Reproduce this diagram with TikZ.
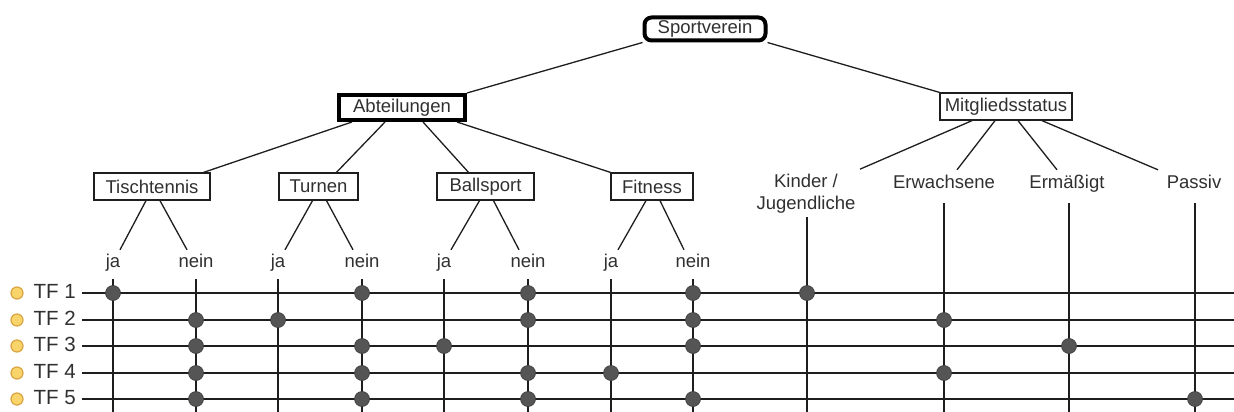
\documentclass[tikz,border=0pt]{standalone}
\usepackage{fontspec}
\setmainfont{Liberation Sans}
\usetikzlibrary{calc}
\definecolor{ink}{HTML}{1E1E1E}
\definecolor{txt}{HTML}{303030}
\definecolor{dotc}{HTML}{555555}
\definecolor{dotb}{HTML}{3A3A3A}
\definecolor{bulf}{HTML}{F8D46A}
\definecolor{buld}{HTML}{D9A441}
\begin{document}
\begin{tikzpicture}[x=1pt,y=-1pt,
  every node/.style={font=\fontsize{18.5}{22}\selectfont, text=txt},
  box/.style={draw=ink, line width=1.3pt, minimum height=27pt, inner sep=0pt, fill=white},
  bigbox/.style={draw=black, line width=4pt, inner sep=0pt, fill=white},
  edge/.style={draw=ink, line width=1.3pt},
  gridline/.style={draw=ink, line width=1.6pt},
  lbl/.style={anchor=base, inner sep=0pt, text height=13pt, text depth=4pt},
  dot/.style={circle, fill=dotc, draw=dotb, line width=0.6pt, minimum size=15pt, inner sep=0pt},
  bullet/.style={circle, fill=bulf, draw=buld, line width=1.2pt, minimum size=12pt, inner sep=0pt}
]
\fill[white] (0,0) rectangle (1234,412);
\useasboundingbox (0,0) rectangle (1234,412);

% tree boxes
\node[bigbox, rounded corners=7pt, minimum width=121pt, minimum height=23pt] (sv) at (705,29) {Sportverein};
\node[bigbox, minimum width=126pt, minimum height=25pt] (abt) at (402,107.5) {Abteilungen};
\node[box, minimum width=132pt] (mg) at (1006,106.5) {Mitgliedsstatus};
\node[box, minimum width=116pt] (tt) at (152,186.5) {Tischtennis};
\node[box, minimum width=79pt] (tu) at (318.5,186.5) {Turnen};
\node[box, minimum width=97pt] (bs) at (485.5,186.5) {Ballsport};
\node[box, minimum width=82pt] (fi) at (652,186.5) {Fitness};

% status labels
\node[inner sep=0pt, align=center] (kj) at (806,194) {Kinder /\\Jugendliche};
\node[lbl] (er) at (944,188) {Erwachsene};
\node[lbl] (erm) at (1067,188) {Ermäßigt};
\node[lbl] (pa) at (1194,188) {Passiv};

% tree edges
\draw[edge] (sv.south west) -- (abt.north east);
\draw[edge] (sv.south east) -- (mg.north west);
\draw[edge] ($(abt.south)+(-50,0)$) -- ($(tt.north east)+(-7,0)$);
\draw[edge] ($(abt.south)+(-17,0)$) -- ($(tu.north)+(18,0)$);
\draw[edge] ($(abt.south)+(21,0)$) -- ($(bs.north)+(-17,0)$);
\draw[edge] ($(abt.south)+(55,0)$) -- (fi.north west);
\draw[edge] ($(mg.south)+(-34,0)$) -- ($(kj.north)+(54,-5)$);
\draw[edge] ($(mg.south)+(-11,0)$) -- ($(er.north)+(13,-5)$);
\draw[edge] ($(mg.south)+(12,0)$) -- ($(erm.north)+(-10,-5)$);
\draw[edge] ($(mg.south)+(36,0)$) -- ($(pa.north)+(-36,-5)$);

% ja / nein and column lines
\foreach \s/\a/\b in {tt/113/196, tu/278/362, bs/444/528, fi/611/693} {
  \node[lbl] (j\s) at (\a,267) {ja};
  \node[lbl] (n\s) at (\b,267) {nein};
  \coordinate (jb\s) at (\a,412);
  \coordinate (nb\s) at (\b,412);
  \draw[edge] ($(\s.south)+(-6,0)$) -- ($(j\s.north)+(7,-4)$);
  \draw[edge] ($(\s.south)+(8,0)$) -- ($(n\s.north)+(-9,-4)$);
  \draw[gridline] ($(j\s.south)+(0,8)$) -- (jb\s);
  \draw[gridline] ($(n\s.south)+(0,8)$) -- (nb\s);
}
\coordinate (bkj) at (807,412);
\coordinate (ber) at (944,412);
\coordinate (berm) at (1069,412);
\coordinate (bpa) at (1195,412);
\draw[gridline] ($(kj.south)+(1,3)$) -- (bkj);
\draw[gridline] ($(er.south)+(0,11)$) -- (ber);
\draw[gridline] ($(erm.south)+(2,11)$) -- (berm);
\draw[gridline] ($(pa.south)+(1,11)$) -- (bpa);

% rows
\foreach \i/\y in {1/293,2/320,3/346,4/373,5/399} {
  \node[bullet] (b\i) at (17,\y) {};
  \node[inner sep=0pt, text height=14pt, text depth=4pt, anchor=east, font=\fontsize{20.5}{24}\selectfont] (tf\i) at (76,\y) {TF \i};
  \coordinate (r\i) at (1234,\y);
  \draw[gridline] ($(tf\i.east)+(6,0)$) -- (r\i);
}

% dots
\foreach \c/\r in {jbtt/1, nbtu/1, nbbs/1, nbfi/1, bkj/1,
                   nbtt/2, jbtu/2, nbbs/2, nbfi/2, ber/2,
                   nbtt/3, nbtu/3, jbbs/3, nbfi/3, berm/3,
                   nbtt/4, nbtu/4, nbbs/4, jbfi/4, ber/4,
                   nbtt/5, nbtu/5, nbbs/5, nbfi/5, bpa/5} {
  \node[dot] (d\c\r) at (\c |- r\r) {};
}
\end{tikzpicture}
\end{document}
